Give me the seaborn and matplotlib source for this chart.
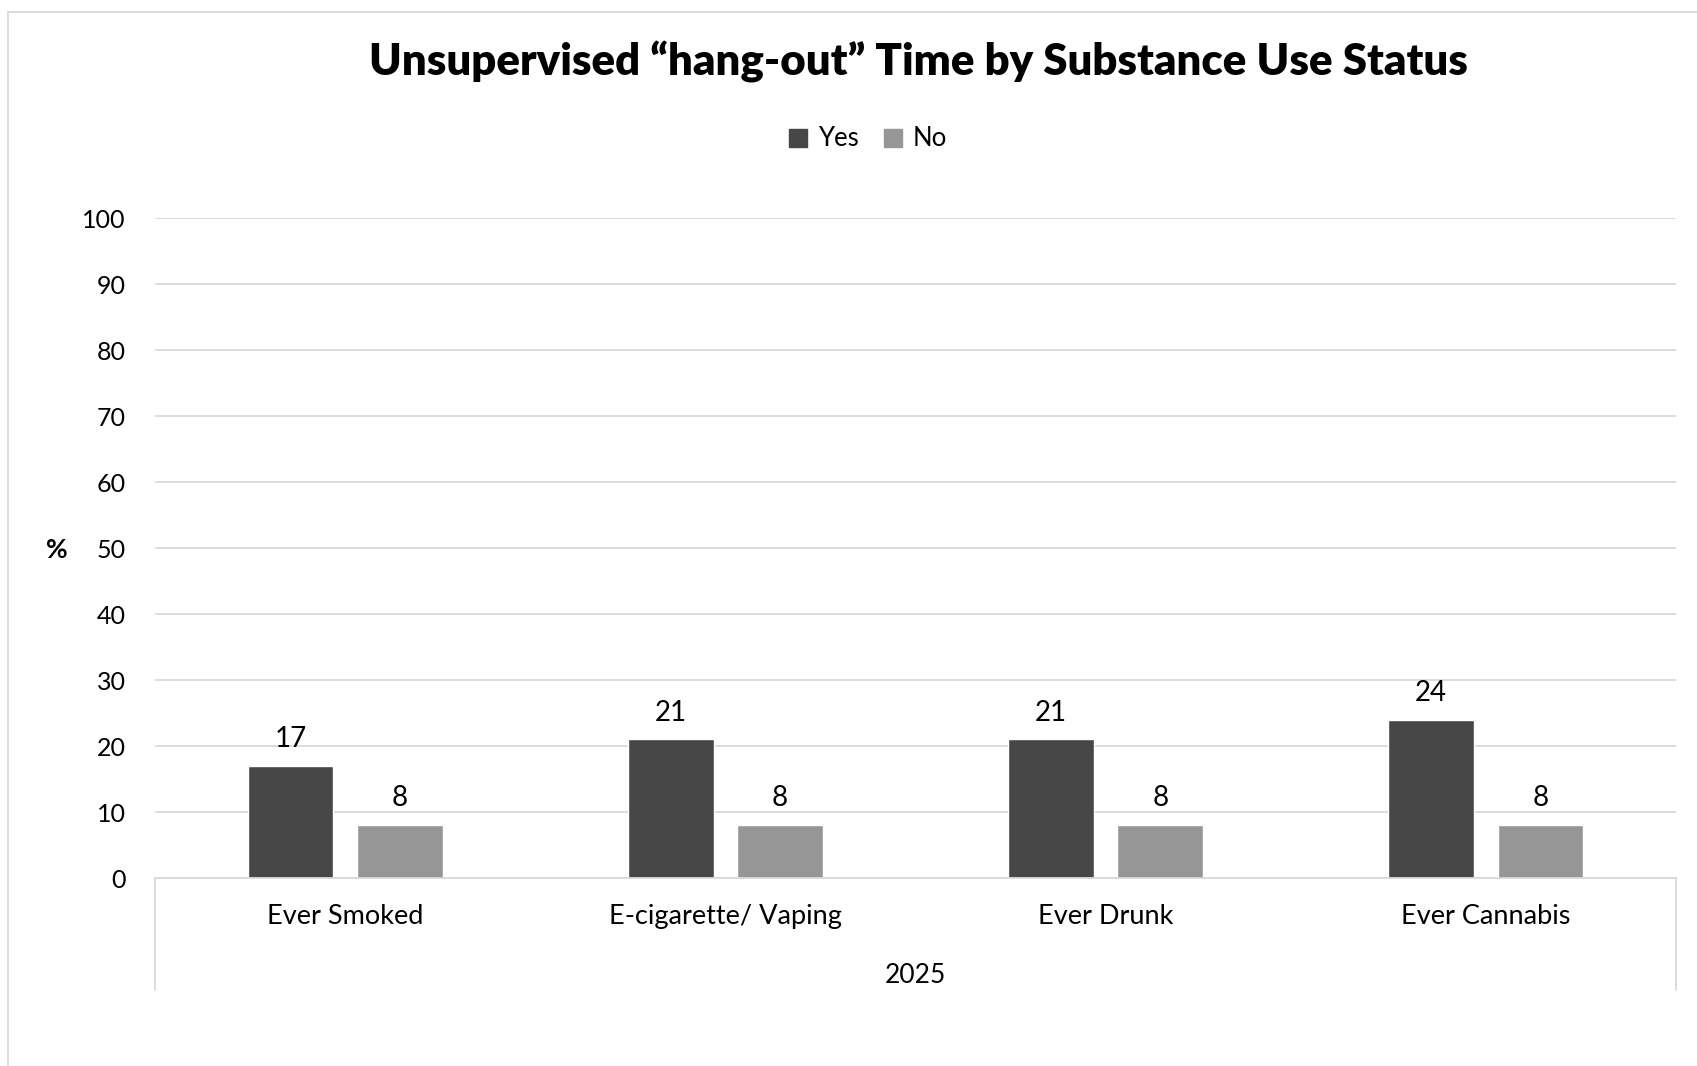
import pandas as pd
import seaborn as sns
import matplotlib.pyplot as plt
from matplotlib.lines import Line2D

# data
categories = ['Ever Smoked', 'E-cigarette/ Vaping', 'Ever Drunk', 'Ever Cannabis']
yes_vals = [17, 21, 21, 24]
no_vals = [8, 8, 8, 8]
groups = ['Yes', 'No']
yticks = list(range(0, 101, 10))

df = pd.DataFrame({
    'category': categories * 2,
    'group': ['Yes'] * len(categories) + ['No'] * len(categories),
    'value': yes_vals + no_vals,
})

sns.set_style('white')
plt.rcParams['font.family'] = ['Lato', 'DejaVu Sans']
plt.rcParams['text.color'] = 'black'
plt.rcParams['xtick.color'] = 'black'
plt.rcParams['ytick.color'] = 'black'
plt.rcParams['axes.labelcolor'] = 'black'

W, H = 1697, 1066
fig = plt.figure(figsize=(W / 100, H / 100), dpi=100)
ax = fig.add_axes([155 / W, 1 - 878 / H, (1676 - 155) / W, (878 - 218) / H])

sns.barplot(data=df, x='category', y='value', hue='group', order=categories,
            hue_order=groups, palette=['#474747', '#969696'], width=0.575,
            gap=0.215, ax=ax, legend=False, saturation=1)

for c in ax.containers:
    ax.bar_label(c, fmt='%d', padding=10, fontsize=20, color='black')

ax.set_ylim(0, 100)
ax.set_xlim(-0.5, len(categories) - 0.5)
ax.set_yticks(yticks)
ax.yaxis.grid(True, color='#d9d9d9', linewidth=1.3)
ax.set_axisbelow(True)
for s in ['top', 'right', 'left']:
    ax.spines[s].set_visible(False)
ax.spines['bottom'].set_color('#d9d9d9')
ax.spines['bottom'].set_linewidth(1.3)
ax.tick_params(axis='y', length=0, pad=21, labelsize=18)
ax.tick_params(axis='x', length=0, pad=19, labelsize=19.5)
ax.set_ylabel('')
ax.set_xlabel('2025', fontsize=19, labelpad=24)

# category axis box edges
for xpos in [-0.5, len(categories) - 0.5]:
    ax.axvline(xpos, ymin=-0.17, ymax=0, clip_on=False, color='#d9d9d9', linewidth=1.3)

fig.text(57 / W, 1 - 550 / H, '%', fontsize=19, fontweight='bold', ha='center', va='center')
fig.text(918 / W, 1 - 62 / H, 'Unsupervised \u201chang-out\u201d Time by Substance Use Status',
         fontsize=31.5, fontweight='heavy', ha='center', va='center')

handles = [plt.Rectangle((0, 0), 1, 1, color=col) for col in ['#474747', '#969696']]
fig.legend(handles, groups, loc='center', bbox_to_anchor=(868 / W, 1 - 139 / H), ncol=2,
           frameon=False, fontsize=18.5, handlelength=0.7, handleheight=0.7,
           handletextpad=0.4, columnspacing=1.0)

# outer chart border (top and left visible)
fig.add_artist(Line2D([8 / W, 1], [1 - 12 / H, 1 - 12 / H], color='#d9d9d9', linewidth=1.3))
fig.add_artist(Line2D([8 / W, 8 / W], [0, 1 - 12 / H], color='#d9d9d9', linewidth=1.3))

fig.savefig('out.png', dpi=100)
